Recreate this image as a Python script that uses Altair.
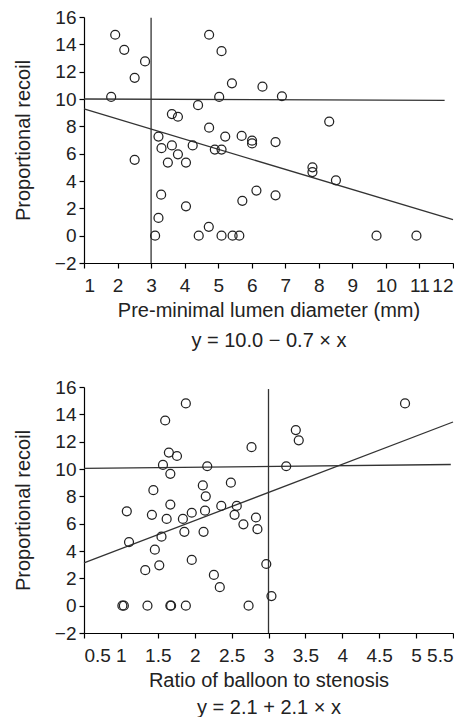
import altair as alt
import pandas as pd

# ---- Top panel data (pre-minimal lumen diameter vs proportional recoil)
top_x = [1.93, 2.20, 2.82, 2.51, 1.81, 4.73, 5.10, 5.41, 6.32, 5.03, 4.40, 3.62, 3.80,
         4.73, 3.22, 5.21, 5.70, 6.01, 6.01, 3.31, 3.62, 4.24, 4.90, 5.10, 3.80, 6.90,
         8.31, 6.71, 2.51, 3.50, 4.04, 3.30, 4.04, 3.22, 3.12, 4.42, 4.72, 5.10, 5.43,
         5.63, 5.72, 6.14, 6.71, 7.81, 7.81, 8.51, 9.72, 10.91]
top_y = [14.7, 13.6, 12.75, 11.55, 10.15, 14.7, 13.5, 11.15, 10.9, 10.15, 9.55, 8.9, 8.7,
         7.9, 7.25, 7.25, 7.3, 6.95, 6.75, 6.4, 6.6, 6.6, 6.3, 6.3, 5.95, 10.2,
         8.35, 6.85, 5.55, 5.35, 5.35, 3.0, 2.15, 1.3, 0.0, 0.0, 0.65, 0.0, 0.0,
         0.0, 2.55, 3.3, 2.95, 5.0, 4.65, 4.05, 0.0, 0.0]

# reference lines: vertical cut-off, horizontal mean, regression
top_seg_x1 = [3.0, 1.0, 1.0]
top_seg_y1 = [-2.0, 10.0, 9.27]
top_seg_x2 = [3.0, 11.75, 12.0]
top_seg_y2 = [15.95, 9.9, 1.17]

top_xticks = list(range(1, 13))

# ---- Bottom panel data (ratio of balloon to stenosis vs proportional recoil)
bot_x = [1.88, 1.60, 1.65, 1.76, 1.57, 1.67, 2.17, 2.77, 2.11, 2.15, 2.49, 1.44, 1.67,
         2.36, 2.57, 1.08, 1.42, 1.96, 2.14, 1.62, 1.84, 2.54, 2.66, 2.83, 2.85, 1.11,
         1.55, 1.86, 2.12, 1.46, 1.33, 1.52, 1.96, 2.26, 2.34, 2.97, 1.02, 1.04, 1.36,
         1.67, 1.68, 1.88, 2.73, 3.04, 4.85, 3.37, 3.41, 3.24]
bot_y = [14.8, 13.55, 11.2, 10.95, 10.3, 9.65, 10.2, 11.6, 8.8, 8.0, 9.0, 8.45, 7.4,
         7.3, 7.3, 6.9, 6.65, 6.8, 6.95, 6.35, 6.35, 6.65, 5.95, 6.45, 5.6, 4.65,
         5.05, 5.4, 5.4, 4.1, 2.6, 2.95, 3.35, 2.25, 1.35, 3.05, 0.0, 0.0, 0.0,
         0.0, 0.0, 0.0, 0.0, 0.7, 14.8, 12.85, 12.1, 10.2]

bot_seg_x1 = [3.0, 0.5, 0.5]
bot_seg_y1 = [-2.0, 10.04, 3.13]
bot_seg_x2 = [3.0, 5.47, 5.5]
bot_seg_y2 = [15.85, 10.33, 13.44]

bot_xticks = [0.5, 1, 1.5, 2, 2.5, 3, 3.5, 4, 4.5, 5, 5.5]

y_ticks = list(range(-2, 17, 2))

FONT = "Liberation Sans"
INK = "#222222"


def panel(px, py, sx1, sy1, sx2, sy2, xdomain, xticks, xtitle, formula, line_h):
    pts = pd.DataFrame({"x": px, "y": py})
    segs = pd.DataFrame({"x": sx1, "y": sy1, "x2": sx2, "y2": sy2})
    xs = alt.Scale(domain=xdomain, nice=False, zero=False)
    ys = alt.Scale(domain=[-2, 16], nice=False, zero=False)
    xax = alt.Axis(values=xticks, format="~g", title=[xtitle, formula], grid=False,
                   labelPadding=8, titlePadding=5, titleLineHeight=line_h)
    yax = alt.Axis(values=y_ticks, title="Proportional recoil", grid=False,
                   labelPadding=3, titlePadding=21)
    lines = alt.Chart(segs).mark_rule(color="#333333", strokeWidth=1.3).encode(
        x=alt.X("x:Q", scale=xs, axis=xax),
        y=alt.Y("y:Q", scale=ys, axis=yax),
        x2="x2:Q",
        y2="y2:Q",
    )
    points = alt.Chart(pts).mark_point(shape="circle", filled=False, size=80,
                                       strokeWidth=1.25, color=INK, opacity=1).encode(
        x=alt.X("x:Q", scale=xs, axis=xax),
        y=alt.Y("y:Q", scale=ys, axis=yax),
    )
    return alt.layer(lines, points).properties(width=369, height=246)


top = panel(top_x, top_y, top_seg_x1, top_seg_y1, top_seg_x2, top_seg_y2,
            [1, 12], top_xticks, "Pre-minimal lumen diameter (mm)",
            "y = 10.0 \u2212 0.7 \u00d7 x", 30)
bottom = panel(bot_x, bot_y, bot_seg_x1, bot_seg_y1, bot_seg_x2, bot_seg_y2,
               [0.5, 5.5], bot_xticks, "Ratio of balloon to stenosis",
               "y = 2.1 + 2.1 \u00d7 x", 27)

chart = alt.vconcat(top, bottom, spacing=28).properties(
    padding={"left": 5, "top": 0, "right": 0, "bottom": 0},
    background="white",
).configure_view(stroke=None).configure_axis(
    domainColor="black", domainWidth=1.2, tickColor="black", tickWidth=1.2, tickSize=5,
    labelFont=FONT, labelFontSize=19, labelColor=INK,
    titleFont=FONT, titleFontSize=20, titleFontWeight="normal", titleColor=INK,
)

chart.save("out.html", embed_options={"renderer": "svg", "actions": False})
